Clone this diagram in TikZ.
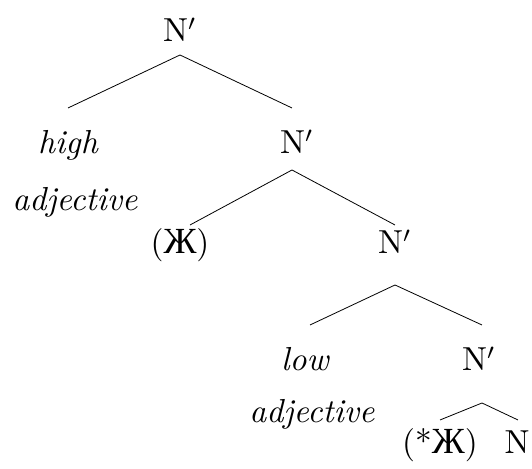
\documentclass[tikz,border=0pt]{standalone}
\usepackage{fontspec}
\newfontfamily\cyrfont{Liberation Serif}
\begin{document}
\begin{tikzpicture}[x=0.3125pt,y=-0.3125pt,
  lbl/.style={anchor=base,inner sep=0pt,font=\fontsize{10.4}{12}\selectfont},
  edge/.style={draw=black,line width=0.25pt}]
\useasboundingbox (0,0) rectangle (532,469);
\node[lbl] (n1) at (180,42) {N$'$};
\node[lbl] (high) at (68,154) {\itshape high};
\node[lbl] (adj1) at (75,211) {\itshape adjective};
\node[lbl] (n2) at (297,154) {N$'$};
\node[lbl] (zh1) at (180,254) {({\cyrfont\fontsize{11.5}{12}\selectfont Ж})};
\node[lbl] (n3) at (395,254) {N$'$};
\node[lbl] (low) at (305,371) {\itshape low};
\node[lbl] (adj2) at (312,423) {\itshape adjective};
\node[lbl] (n4) at (479,371) {N$'$};
\node[lbl] (zh2) at (440,454) {(*{\cyrfont\fontsize{11.5}{12}\selectfont Ж})};
\node[lbl] (n) at (517,454) {N};
\coordinate (t1) at (180,55);
\coordinate (l1) at (68,108);
\coordinate (r1) at (292,108);
\coordinate (t2) at (292,170);
\coordinate (l2) at (190,225);
\coordinate (r2) at (395,225);
\coordinate (t3) at (395,285);
\coordinate (l3) at (310,325);
\coordinate (r3) at (482,325);
\coordinate (t4) at (482,403);
\coordinate (l4) at (440,420);
\coordinate (r4) at (518,420);
\draw[edge] (l1) -- (t1) -- (r1);
\draw[edge] (l2) -- (t2) -- (r2);
\draw[edge] (l3) -- (t3) -- (r3);
\draw[edge] (l4) -- (t4) -- (r4);
\end{tikzpicture}
\end{document}
